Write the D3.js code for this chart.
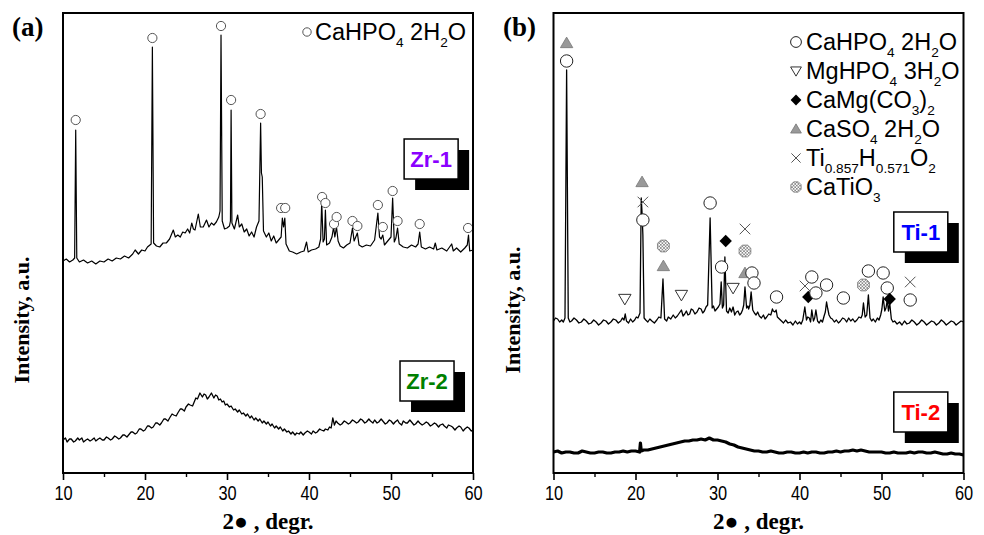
<!DOCTYPE html>
<html><head><meta charset="utf-8">
<script src="https://cdn.jsdelivr.net/npm/d3@7"></script>
<style>body{margin:0;background:#fff} svg{display:block}</style>
</head><body>
<svg id="c" width="984" height="535"></svg>
<script>
// ---------- data ----------
const xTicks = [10, 20, 30, 40, 50, 60];
const xMinor = [15, 25, 35, 45, 55];
const xDomain = [10, 60];
const yDomain = [0, 460];

// Zr-1 pattern (2theta, intensity a.u., stacked)
const zr1 = [
[10,212],[10.4,214],[10.8,211],[11.2,213],[11.42,215],[11.55,343],[11.68,215],[12,211],[12.5,213],[13,210],[13.5,212],[14,209],[14.5,212],[15,211],[15.5,214],[16,212],[16.5,215],[17,214],[17.5,217],[18,215],[18.5,219],[18.8,223],[19.2,219],[19.6,223],[20.0,222],[20.3,226],[20.75,229],[20.9,426],[21.05,230],[21.4,227],[21.8,226],[22.2,230],[22.6,230],[23.0,234],[23.45,243],[23.7,236],[24.0,238],[24.3,236],[24.6,241],[24.9,240],[25.2,244],[25.45,240],[25.7,250],[25.9,244],[26.1,243],[26.5,259],[26.75,246],[27.1,246],[27.5,253],[27.8,246],[28.1,250],[28.4,248],[28.7,251],[29.0,256],[29.15,262],[29.27,438],[29.42,252],[29.7,244],[30.0,245],[30.3,247],[30.42,252],[30.5,363],[30.6,250],[30.9,244],[31.3,258],[31.5,246],[31.8,249],[32.1,241],[32.4,244],[32.7,237],[33.0,241],[33.3,236],[33.6,246],[33.9,252],[34.1,350],[34.2,300],[34.3,296],[34.45,242],[34.8,236],[35.1,240],[35.4,232],[35.7,237],[36.0,230],[36.3,233],[36.6,236],[36.75,255],[36.9,246],[37.05,255],[37.2,229],[37.6,222],[38.0,221],[38.5,219],[39.0,221],[39.4,222],[39.7,231],[39.9,221],[40.3,223],[40.8,224],[41.2,226],[41.42,234],[41.55,271],[41.72,231],[41.88,234],[42.0,263],[42.15,228],[42.5,230],[42.8,236],[43.0,246],[43.15,236],[43.35,246],[43.55,232],[43.8,227],[44.2,225],[44.6,228],[45.0,230],[45.3,245],[45.5,232],[45.7,236],[45.9,240],[46.1,228],[46.5,226],[47.0,228],[47.5,227],[48.0,233],[48.4,260],[48.6,236],[48.8,234],[49.0,238],[49.2,228],[49.6,232],[50.0,236],[50.2,275],[50.4,231],[50.6,235],[50.8,245],[51.0,229],[51.5,226],[52.0,225],[52.5,228],[53.0,226],[53.3,229],[53.5,241],[53.7,226],[54.2,224],[54.7,226],[55.2,224],[55.4,230],[55.6,223],[56.2,225],[56.8,222],[57.4,229],[57.6,222],[58.0,225],[58.5,221],[59.0,225],[59.3,228],[59.45,238],[59.6,222],[60,223]
];
// Zr-2 pattern
const zr2 = [
[10,33],[10.3,35],[10.5,31],[10.8,34],[11,34],[11.3,31],[11.5,32],[11.8,35],[12,33],[12.3,35],[12.5,31],[12.8,33],[13,34],[13.3,32],[13.5,33],[13.8,35],[14,32],[14.3,34],[14.5,35],[14.8,33],[15,33],[15.3,36],[15.5,35],[15.8,33],[16,34],[16.3,37],[16.5,36],[16.8,34],[17,35],[17.3,38],[17.5,38],[17.8,36],[18,38],[18.3,41],[18.5,41],[18.8,39],[19,40],[19.3,44],[19.5,44],[19.8,42],[20,43],[20.3,47],[20.5,47],[20.8,45],[21,46],[21.3,50],[21.5,50],[21.8,48],[22,50],[22.3,54],[22.5,54],[22.8,52],[23,55],[23.3,59],[23.5,58],[23.8,57],[24,60],[24.3,64],[24.5,64],[24.8,62],[25,66],[25.3,69],[25.5,68],[25.8,67],[26,71],[26.2,75],[26.4,74],[26.7,80],[27,76],[27.2,79],[27.4,78],[27.6,74],[27.8,76],[28.1,80],[28.4,75],[28.6,78],[28.8,77],[29.0,73],[29.2,74],[29.4,71],[29.6,72],[29.8,68],[30,69],[30.3,66],[30.5,67],[30.8,63],[31,64],[31.3,61],[31.5,63],[31.8,59],[32,60],[32.3,57],[32.5,59],[32.8,55],[33,57],[33.3,53],[33.5,55],[33.8,52],[34,54],[34.3,50],[34.5,52],[34.8,49],[35,51],[35.3,47],[35.5,49],[35.8,45],[36,47],[36.3,44],[36.5,46],[36.8,42],[37,44],[37.3,41],[37.5,42],[37.8,39],[38,41],[38.3,38],[38.5,40],[38.8,39],[39,41],[39.3,38],[39.5,40],[39.8,42],[40,41],[40.3,39],[40.5,42],[40.8,40],[41,41],[41.3,44],[41.5,43],[41.8,42],[42,44],[42.3,43],[42.5,46],[42.7,45],[42.9,55],[43.1,48],[43.3,52],[43.5,50],[43.8,48],[44,49],[44.3,52],[44.5,51],[44.8,49],[45,50],[45.3,53],[45.5,52],[45.8,50],[46,51],[46.3,54],[46.5,53],[46.8,50],[47,51],[47.3,54],[47.5,52],[47.8,50],[48,53],[48.3,50],[48.5,51],[48.8,54],[49,52],[49.3,49],[49.5,50],[49.8,53],[50,52],[50.3,49],[50.5,51],[50.8,53],[51,50],[51.3,48],[51.5,52],[51.8,50],[52,50],[52.3,53],[52.5,51],[52.8,48],[53,49],[53.3,52],[53.5,50],[53.8,48],[54,49],[54.3,51],[54.5,50],[54.8,47],[55,48],[55.3,50],[55.5,49],[55.8,46],[56,48],[56.3,49],[56.5,47],[56.8,45],[57,48],[57.3,47],[57.5,46],[57.8,43],[58,45],[58.3,47],[58.5,46],[58.8,42],[59,44],[59.3,46],[59.5,45],[59.8,42],[60,43]
];
// Ti-1 pattern
const ti1 = [
[10,152],[10.25,155],[10.5,154],[10.75,151],[11,153],[11.2,151],[11.4,155],[11.6,403],[11.8,155],[12.0,151],[12.2,152],[12.5,155],[12.8,153],[13.1,150],[13.4,151],[13.7,154],[14,152],[14.3,149],[14.6,150],[14.9,153],[15.2,151],[15.5,148],[15.8,150],[16.1,153],[16.4,152],[16.7,149],[17,151],[17.3,154],[17.6,153],[17.9,150],[18.2,152],[18.4,155],[18.6,153],[18.75,159],[18.9,152],[19.15,150],[19.4,154],[19.65,151],[19.9,153],[20.1,156],[20.3,155],[20.55,160],[20.7,275],[20.8,260],[20.9,238],[21.05,155],[21.25,153],[21.5,151],[21.75,154],[22,152],[22.3,150],[22.6,153],[22.85,156],[23.1,155],[23.35,194],[23.55,154],[23.8,152],[24,156],[24.3,154],[24.6,158],[24.85,155],[25.1,157],[25.35,160],[25.6,163],[25.8,157],[26.0,159],[26.2,162],[26.4,158],[26.6,159],[26.8,164],[27,163],[27.25,159],[27.5,161],[27.75,165],[28,164],[28.2,160],[28.4,162],[28.6,166],[28.8,168],[29.1,255],[29.35,165],[29.5,167],[29.7,162],[29.9,164],[30.1,166],[30.3,169],[30.45,191],[30.6,165],[30.75,168],[30.9,216],[31.1,162],[31.3,160],[31.5,165],[31.7,161],[31.9,166],[32.1,158],[32.3,161],[32.5,162],[32.7,158],[32.9,160],[33.05,163],[33.2,168],[33.35,186],[33.55,165],[33.7,167],[33.8,164],[33.95,168],[34.1,181],[34.3,163],[34.5,160],[34.7,158],[34.9,161],[35.1,157],[35.35,155],[35.6,158],[35.8,154],[36.0,156],[36.25,159],[36.5,158],[36.7,164],[36.8,162],[37.0,161],[37.15,163],[37.3,156],[37.55,154],[37.8,152],[38.05,150],[38.3,153],[38.6,150],[38.9,151],[39.2,148],[39.5,152],[39.75,149],[40.0,151],[40.2,149],[40.4,153],[40.65,166],[40.85,153],[41.0,156],[41.2,155],[41.35,151],[41.5,163],[41.7,152],[41.85,155],[42.0,163],[42.2,152],[42.4,150],[42.6,153],[42.8,151],[43.0,157],[43.15,161],[43.3,171],[43.45,164],[43.6,158],[43.8,155],[44,154],[44.25,151],[44.5,153],[44.75,150],[45,152],[45.25,155],[45.5,154],[45.75,151],[46,155],[46.25,152],[46.5,154],[46.75,151],[47,153],[47.25,156],[47.5,155],[47.65,158],[47.8,170],[48.0,156],[48.2,158],[48.4,178],[48.6,155],[48.8,152],[49.0,154],[49.25,151],[49.5,155],[49.7,153],[49.9,158],[50.05,164],[50.2,176],[50.4,162],[50.55,165],[50.7,173],[50.85,162],[51.0,170],[51.2,154],[51.4,151],[51.6,152],[51.9,149],[52.2,151],[52.5,148],[52.8,152],[53.1,149],[53.4,150],[53.7,153],[54,151],[54.3,148],[54.6,150],[54.9,153],[55.2,151],[55.5,148],[55.8,150],[56.1,152],[56.4,151],[56.7,148],[57,150],[57.3,153],[57.6,151],[57.9,148],[58.2,150],[58.5,152],[58.8,151],[59.1,148],[59.4,150],[59.7,152],[60,151]
];
// Ti-2 pattern
const ti2 = [
[10,21],[10.5,22],[11,20],[11.5,21],[12,21],[12.5,20],[13,20],[13.5,22],[14,21],[14.5,20],[15,20],[15.5,21],[16,21],[16.5,20],[17,20],[17.5,21],[18,21],[18.5,22],[19,21],[19.5,22],[20,22],[20.5,21],[20.6,30],[20.7,22],[21,23],[21.5,23],[22,24],[22.5,25],[23,26],[23.5,27],[24,28],[24.5,29],[25,30],[25.5,31],[26,32],[26.5,32],[27,33],[27.5,33],[28,34],[28.5,33],[29,35],[29.5,33],[30,33],[30.5,32],[31,31],[31.5,29],[32,28],[32.5,26],[33,25],[33.5,24],[34,23],[34.5,22],[35,22],[35.5,21],[36,21],[36.5,22],[37,21],[37.5,20],[38,20],[38.5,21],[39,21],[39.5,20],[40,20],[40.5,21],[41,20],[41.5,21],[42,21],[42.5,20],[43,20],[43.5,21],[44,21],[44.5,22],[45,21],[45.5,22],[46,22],[46.5,23],[47,22],[47.5,23],[48,22],[48.5,21],[49,21],[49.5,21],[50,21],[50.5,20],[51,20],[51.5,21],[52,20],[52.5,20],[53,20],[53.5,21],[54,20],[54.5,21],[55,21],[55.5,20],[56,20],[56.5,21],[57,20],[57.5,19],[58,19],[58.5,20],[59,19],[59.5,19],[60,18]
];

// phase markers
const zr1Marks = [[11.55,353],[20.9,435],[29.27,447],[30.5,373],[34.1,359],[36.6,265],[37.1,265],[41.6,276],[42.0,270],[43.05,249],[43.37,256],[45.3,252],[45.9,247],[48.4,268],[49.0,246],[50.2,282],[50.8,252],[53.5,249],[59.4,245]];
const ti1Marks = [
[11.6,430,"tu"],[11.6,412,"c"],[18.7,174,"td"],[20.8,291,"tu"],[20.9,271,"x"],[20.9,253,"c"],
[23.4,227,"h"],[23.4,207,"tu"],[25.6,178,"td"],[29.1,270,"c"],[30.5,206,"c"],[31.0,232,"d"],
[31.9,185,"td"],[33.35,244,"x"],[33.35,222,"h"],[33.35,200,"tu"],[34.2,200,"c"],[34.45,190,"c"],
[37.2,176,"c"],[40.67,187,"x"],[41.07,176,"d"],[41.5,196,"c"],[42.0,180,"c"],[43.3,188,"c"],
[45.35,175,"c"],[47.8,188,"h"],[48.4,202,"c"],[50.2,200,"c"],[50.7,185,"c"],[51.0,174,"d"],
[53.5,191,"x"],[53.5,173,"c"]
];

// legends: [symbol, [[text, isSub], ...]]
const legendA = [["c", [["CaHPO",0],["4",1],[" 2H",0],["2",1],["O",0]]]];
const legendB = [
["c",  [["CaHPO",0],["4",1],[" 2H",0],["2",1],["O",0]]],
["td", [["MgHPO",0],["4",1],[" 3H",0],["2",1],["O",0]]],
["d",  [["CaMg(CO",0],["3",1],[")",0],["2",1]]],
["tu", [["CaSO",0],["4",1],[" 2H",0],["2",1],["O",0]]],
["x",  [["Ti",0],["0.857",1],["H",0],["0.571",1],["O",0],["2",1]]],
["h",  [["CaTiO",0],["3",1]]]
];

// sample labels: [text, colour, 2theta of box left, intensity of box top]
const labelsA = [["Zr-1", "#8a00ff", 51.6, 334], ["Zr-2", "#008000", 51.1, 112]];
const labelsB = [["Ti-1", "#0000ff", 51.5, 261], ["Ti-2", "#ff0000", 51.5, 81]];

// ---------- drawing ----------
const svg = d3.select("#c");
const defs = svg.append("defs");
const pat = defs.append("pattern").attr("id","hatch").attr("patternUnits","userSpaceOnUse")
  .attr("width",3.2).attr("height",3.2);
pat.append("rect").attr("width",3.2).attr("height",3.2).attr("fill","#fff");
pat.append("path").attr("d","M0,0L3.2,3.2M3.2,0L0,3.2").attr("stroke","#777").attr("stroke-width",0.7);

function sym(g, type, x, y, r) {
  if (type === "c") {
    g.append("circle").attr("cx",x).attr("cy",y).attr("r",r).attr("fill","#fff").attr("stroke","#222").attr("stroke-width",1);
  } else if (type === "ca") {
    g.append("circle").attr("cx",x).attr("cy",y).attr("r",r).attr("fill","#fff").attr("stroke","#555").attr("stroke-width",1);
  } else if (type === "tu") {
    g.append("path").attr("d",`M${x-r},${y+r*0.75}L${x+r},${y+r*0.75}L${x},${y-r*0.95}Z`)
      .attr("fill","#999").attr("stroke","#777").attr("stroke-width",0.8);
  } else if (type === "td") {
    g.append("path").attr("d",`M${x-r},${y-r*0.75}L${x+r},${y-r*0.75}L${x},${y+r*0.95}Z`)
      .attr("fill","#fff").attr("stroke","#333").attr("stroke-width",1);
  } else if (type === "d") {
    g.append("path").attr("d",`M${x},${y-r}L${x+r},${y}L${x},${y+r}L${x-r},${y}Z`).attr("fill","#000");
  } else if (type === "x") {
    const s = r*0.85;
    g.append("path").attr("d",`M${x-s},${y-s}L${x+s},${y+s}M${x+s},${y-s}L${x-s},${y+s}`)
      .attr("stroke","#555").attr("stroke-width",1).attr("fill","none");
  } else if (type === "h") {
    const s = r*0.95, c = s*0.45;
    g.append("path").attr("d",`M${x-c},${y-s}L${x+c},${y-s}L${x+s},${y-c}L${x+s},${y+c}L${x+c},${y+s}L${x-c},${y+s}L${x-s},${y+c}L${x-s},${y-c}Z`)
      .attr("fill","url(#hatch)").attr("stroke","#777").attr("stroke-width",0.8);
  }
}

function richText(g, x, y, parts, size) {
  const t = g.append("text").attr("x",x).attr("y",y)
    .attr("font-family","'Liberation Sans', Arial, sans-serif").attr("font-size",size).attr("fill","#000");
  let shifted = false;
  parts.forEach(([s, sub]) => {
    const ts = t.append("tspan").text(s);
    if (sub && !shifted) { ts.attr("dy", size*0.3).attr("font-size", size*0.58); shifted = true; }
    else if (sub) { ts.attr("font-size", size*0.58); }
    else if (!sub && shifted) { ts.attr("dy", -size*0.3); shifted = false; }
  });
  return t;
}

function panel(cfg) {
  const g = svg.append("g");
  const x = d3.scaleLinear().domain(xDomain).range([cfg.left, cfg.right]);
  const y = d3.scaleLinear().domain(yDomain).range([cfg.bottom, cfg.top]);
  const line = d3.line().x(d => x(d[0])).y(d => y(d[1]));

  // traces
  cfg.traces.forEach(tr => {
    g.append("path").datum(tr.data).attr("d", line).attr("fill","none")
      .attr("stroke","#000").attr("stroke-width", tr.w).attr("stroke-linejoin","round");
  });

  // markers
  cfg.marks.forEach(m => sym(g, m[2] || cfg.markType, x(m[0]), y(m[1]), cfg.markR));

  // sample labels
  cfg.labels.forEach(([txt, col, lt, lv]) => {
    const bx = x(lt), by = y(lv), w = 54, h = 40;
    g.append("rect").attr("x", bx+11).attr("y", by+11).attr("width", w).attr("height", h).attr("fill","#000");
    g.append("rect").attr("x", bx).attr("y", by).attr("width", w).attr("height", h)
      .attr("fill","#fff").attr("stroke","#000").attr("stroke-width",1.5);
    g.append("text").attr("x", bx + w/2).attr("y", by + h/2 + 8).attr("text-anchor","middle")
      .attr("font-family","'Liberation Sans', Arial, sans-serif").attr("font-weight","bold")
      .attr("font-size",22).attr("fill",col).text(txt);
  });

  // axis
  const ax = g.append("g").attr("transform",`translate(0,${cfg.bottom})`)
    .call(d3.axisBottom(x).tickValues(xTicks).tickSize(7).tickPadding(6).tickFormat(d3.format("d")));
  ax.select(".domain").remove();
  ax.selectAll(".tick line").attr("stroke-width",1.6);
  ax.selectAll(".tick text").attr("font-family","'Liberation Sans', Arial, sans-serif")
    .attr("font-size",20).attr("fill","#000").attr("transform","scale(0.82,1)");
  const axm = g.append("g").attr("transform",`translate(0,${cfg.bottom})`)
    .call(d3.axisBottom(x).tickValues(xMinor).tickSize(4).tickFormat(""));
  axm.select(".domain").remove();
  axm.selectAll(".tick line").attr("stroke-width",1.4);

  // frame
  g.append("rect").attr("x",cfg.left).attr("y",cfg.top).attr("width",cfg.right-cfg.left)
    .attr("height",cfg.bottom-cfg.top).attr("fill","none").attr("stroke","#000").attr("stroke-width",2);

  // legend
  cfg.legend.forEach(([s, parts], i) => {
    const ly = cfg.legY + i*cfg.legStep;
    sym(g, s === "c" ? cfg.legCircle : s, cfg.legSymX, ly - 8, cfg.legR);
    richText(g, cfg.legTextX, ly, parts, 23.5);
  });

  // axis titles
  g.append("text").attr("x",(cfg.left+cfg.right)/2).attr("y",529).attr("text-anchor","middle")
    .attr("font-family","'Liberation Serif','Times New Roman',serif").attr("font-weight","bold")
    .attr("font-size",23).text("2\u25CF , degr.");
  g.append("text").attr("transform",`translate(${cfg.yLabX},${cfg.yLabY}) rotate(-90)`)
    .attr("text-anchor","middle")
    .attr("font-family","'Liberation Serif','Times New Roman',serif").attr("font-weight","bold")
    .attr("font-size",22).text("Intensity, a.u.");
  g.append("text").attr("x",cfg.tagX).attr("y",36)
    .attr("font-family","'Liberation Serif','Times New Roman',serif").attr("font-weight","bold")
    .attr("font-size",27).text(cfg.tag);
}

panel({left:63, right:473, top:13, bottom:473,
  traces:[{data:zr1, w:1.2},{data:zr2, w:1.3}],
  marks: zr1Marks, markType:"ca", markR:4.6,
  labels: labelsA, legend: legendA, legCircle:"ca", legR:4.2,
  legY:40, legStep:29, legSymX:307, legTextX:315,
  yLabX:29, yLabY:320, tag:"(a)", tagX:12});

panel({left:553.5, right:963.5, top:13, bottom:473,
  traces:[{data:ti1, w:1.3},{data:ti2, w:3.2}],
  marks: ti1Marks, markType:"c", markR:6.2,
  labels: labelsB, legend: legendB, legCircle:"c", legR:5.4,
  legY:50, legStep:29, legSymX:796, legTextX:806,
  yLabX:520, yLabY:310, tag:"(b)", tagX:503});
</script>
</body></html>
